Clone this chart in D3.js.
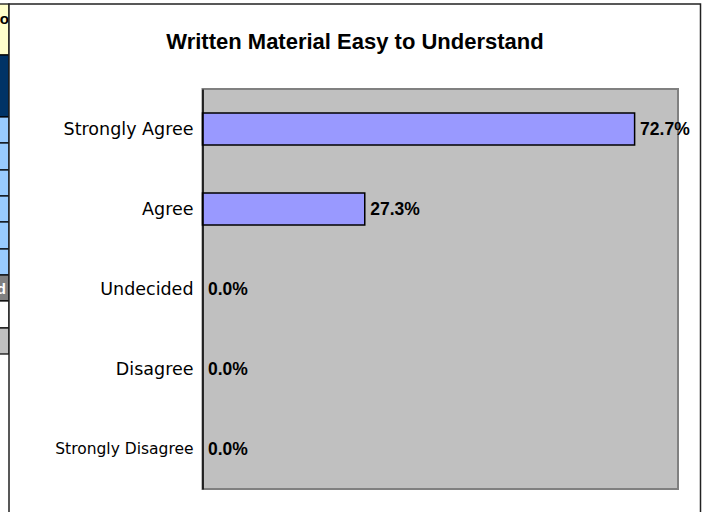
<!DOCTYPE html>
<html><head><meta charset="utf-8">
<script src="https://cdn.jsdelivr.net/npm/d3@7"></script>
<style>html,body{margin:0;padding:0;background:#fff;overflow:hidden}</style>
</head><body>
<script>
const title = "Written Material Easy to Understand";
const categories = ["Strongly Agree", "Agree", "Undecided", "Disagree", "Strongly Disagree"];
const values = [72.7, 27.3, 0.0, 0.0, 0.0];
const xDomain = [0, 80];

const W = 711, H = 512;
const svg = d3.select("body").append("svg").attr("width", W).attr("height", H);

// spreadsheet remnants at the left edge (decoration)
const stub = svg.append("g");
const cells = [
  [4, 55, "#FFFFCC"], [55, 117, "#003366"], [117, 143, "#99CCFF"], [143, 170, "#99CCFF"],
  [170, 196, "#99CCFF"], [196, 222, "#99CCFF"], [222, 249, "#99CCFF"], [249, 275, "#99CCFF"],
  [275, 301, "#808080"], [301, 328, "#FFFFFF"], [328, 354, "#C0C0C0"]
];
stub.selectAll("rect").data(cells).join("rect")
  .attr("x", -2).attr("y", d => d[0]).attr("width", 11).attr("height", d => d[1] - d[0])
  .attr("fill", d => d[2]).attr("stroke", "#000").attr("stroke-width", 1.2);
stub.append("text").attr("x", 9).attr("y", 24).attr("text-anchor", "end")
  .attr("font-family", "Liberation Sans, Arial, sans-serif").attr("font-weight", "bold")
  .attr("font-size", 15).text("o");
stub.append("text").attr("x", 6).attr("y", 294).attr("text-anchor", "end")
  .attr("font-family", "Liberation Sans, Arial, sans-serif").attr("font-weight", "bold")
  .attr("font-size", 15).attr("fill", "#fff").text("d");

// chart area
svg.append("rect").attr("x", 9).attr("y", 4).attr("width", 691.5).attr("height", 520)
  .attr("fill", "#fff").attr("stroke", "#222").attr("stroke-width", 1.5);

svg.append("text").attr("x", 355).attr("y", 49).attr("text-anchor", "middle")
  .attr("font-family", "Liberation Sans, Arial, sans-serif").attr("font-weight", "bold")
  .attr("font-size", 22).attr("fill", "#000").text(title);

const plot = {l: 202.5, t: 89, r: 678, b: 489};
const x = d3.scaleLinear().domain(xDomain).range([plot.l, plot.r]);
const y = d3.scaleBand().domain(categories).range([plot.t, plot.b]).paddingInner(0.6).paddingOuter(0.3);

svg.append("rect").attr("x", plot.l).attr("y", plot.t)
  .attr("width", plot.r - plot.l).attr("height", plot.b - plot.t)
  .attr("fill", "#C0C0C0").attr("stroke", "#808080").attr("stroke-width", 2);

svg.append("g").selectAll("rect").data(values).join("rect")
  .attr("x", x(0)).attr("y", (d, i) => y(categories[i]))
  .attr("width", d => x(d) - x(0)).attr("height", y.bandwidth())
  .attr("fill", "#9999FF").attr("stroke", "#000").attr("stroke-width", 1.5);

const ax = svg.append("g").attr("transform", `translate(${plot.l},0)`)
  .call(d3.axisLeft(y).tickSize(0).tickPadding(9));
ax.select(".domain").attr("stroke", "#000").attr("stroke-width", 1.5);
ax.selectAll("text").attr("font-family", "DejaVu Sans, Tahoma, sans-serif")
  .attr("font-size", d => d.length > 15 ? 15.5 : 17.5).attr("fill", "#000");

svg.append("g").selectAll("text").data(values).join("text")
  .attr("x", d => x(d) + 5.5).attr("y", (d, i) => y(categories[i]) + y.bandwidth() / 2)
  .attr("dy", "0.36em")
  .attr("font-family", "Liberation Sans, Arial, sans-serif").attr("font-weight", "bold")
  .attr("font-size", 17.5).attr("fill", "#000")
  .text(d => d3.format(".1f")(d) + "%");
</script>
</body></html>
